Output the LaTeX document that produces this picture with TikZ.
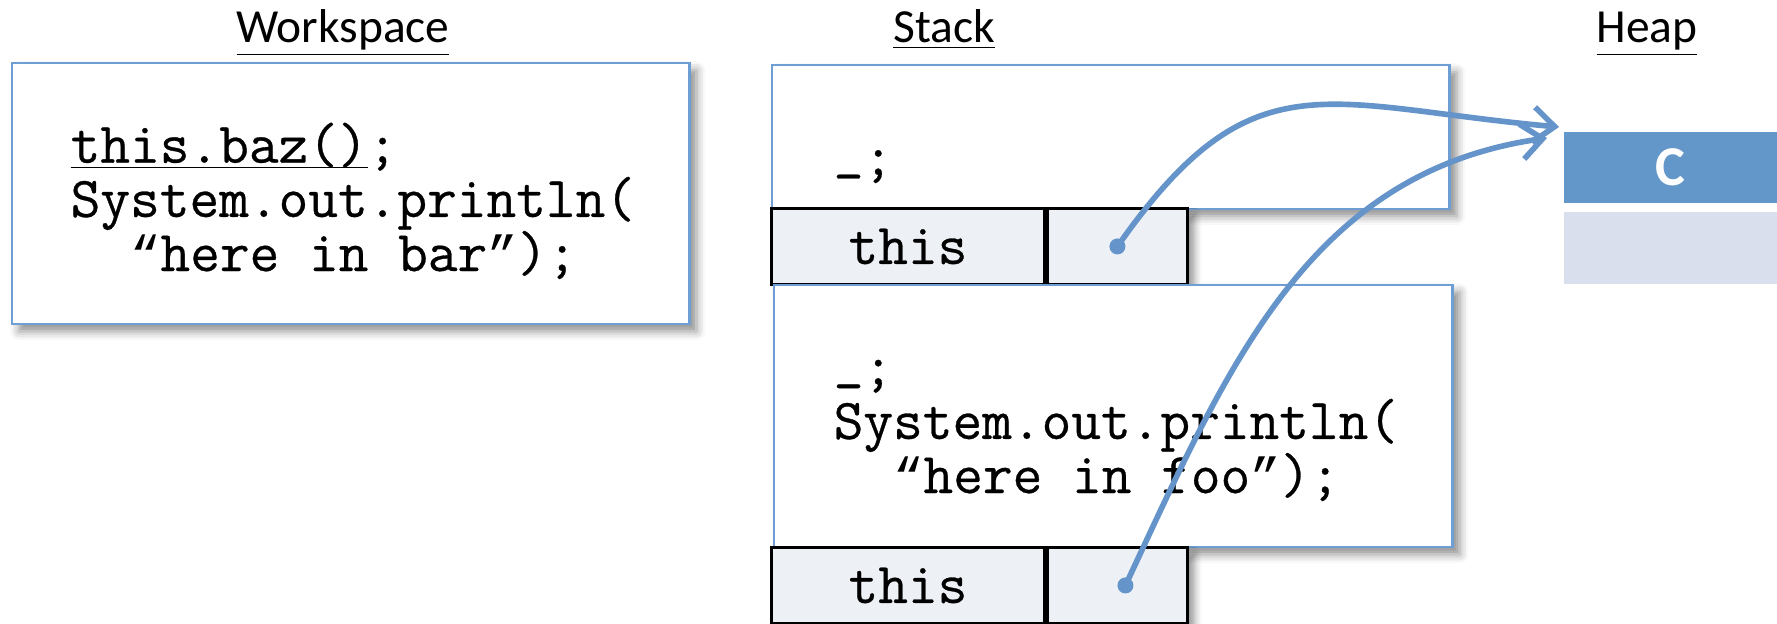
\documentclass[tikz,border=0pt]{standalone}
\usepackage{fontspec}
\setsansfont{Carlito}
\setmonofont{Latin Modern Mono}[FakeBold=0.5]
\newfontfamily\quotefont{Liberation Mono}
\usetikzlibrary{positioning,arrows.meta,shadows.blur}

\definecolor{frameblue}{HTML}{6F9ED4}
\definecolor{refblue}{HTML}{6494C9}
\definecolor{objblue}{HTML}{6396C9}
\definecolor{objgray}{HTML}{D9DFEC}
\definecolor{cellgray}{HTML}{EDF0F5}

\newcommand{\codefont}{\ttfamily\fontsize{16.4}{15.4}\selectfont}
\newcommand{\headfont}{\sffamily\fontsize{13.5}{16}\selectfont}
\newcommand{\codequote}[1]{{\quotefont\fontsize{14.4}{15.4}\selectfont #1}}
\newcommand{\hole}{\raisebox{0.14em}{\_}}

\begin{document}
\begin{tikzpicture}[x=0.01cm, y=-0.01cm,
    frame/.style={rectangle, draw=frameblue, line width=0.6pt, fill=white, inner sep=0pt, anchor=north west,
        blur shadow={shadow xshift=2pt, shadow yshift=-2pt, shadow blur radius=2.5pt, shadow opacity=45}},
    cell/.style={rectangle, draw=black, line width=0.8pt, fill=cellgray, inner sep=0pt, minimum height=0.76cm, font=\codefont,
        blur shadow={shadow xshift=2pt, shadow yshift=-2pt, shadow blur radius=2pt, shadow opacity=40}},
    code/.style={inner sep=0pt, anchor=base west, align=left, font=\codefont},
    header/.style={inner sep=0pt, anchor=base, font=\headfont},
    obj/.style={rectangle, inner sep=0pt, anchor=north west, minimum width=2.14cm},
    dot/.style={circle, fill=refblue, inner sep=0pt, minimum size=0.16cm},
    ref/.style={draw=refblue, line width=1.6pt, -{Straight Barb[length=6pt,width=10pt]}}]
    \useasboundingbox (0,0) rectangle (1777,623);

    % Workspace
    \node[header] (wshead) at (343,42) {\underline{Workspace}};
    \node[frame, minimum width=6.77cm, minimum height=2.61cm] (ws) at (11,62) {};
    \node[code] (wscode) at (70,271) {\underline{\smash{this.baz()}};\\System.out.println(\\\phantom{xx}\codequote{“}here in bar\codequote{”});};

    % Stack: frame of baz
    \node[header] (stackhead) at (944,42) {\underline{Stack}};
    \node[frame, minimum width=6.77cm, minimum height=1.44cm] (bazframe) at (771,64) {};
    \node[code] (bazcode) at (833,175) {\hole;};
    \node[cell, minimum width=2.73cm, anchor=north west] (bazthis) at (770,207) {this};
    \node[cell, minimum width=1.40cm, right=0pt of bazthis] (bazval) {};

    % Stack: frame of foo
    \node[frame, minimum width=6.78cm, minimum height=2.62cm] (fooframe) at (773,284) {};
    \node[code] (foocode) at (833,493) {\hole;\\System.out.println(\\\phantom{xx}\codequote{“}here in foo\codequote{”});};
    \node[cell, minimum width=2.73cm, anchor=north west] (foothis) at (770,546) {this};
    \node[cell, minimum width=1.40cm, right=0pt of foothis] (fooval) {};

    % Heap
    \node[header] (heaphead) at (1647,42) {\underline{Heap}};
    \node[obj, fill=objblue, minimum height=0.71cm, text=white, font=\sffamily\bfseries\fontsize{16}{18}\selectfont] (objc) at (1563,131) {C};
    \node[obj, fill=objgray, minimum height=0.72cm] (objf) at (1563,211) {};

    % References
    \node[dot] (bazref) at (bazval.center) {};
    \node[dot] (fooref) at ([xshift=0.08cm]fooval.center) {};
    \coordinate (tipa) at ([shift={(-4,-4)}]objc.north west);
    \coordinate (tipb) at ([shift={(-16,7)}]objc.north west);
    \draw[ref] (bazref.center) .. controls +(135,-193) and +(-235,-21) .. (tipa);
    \draw[ref] (fooref.center) .. controls +(102,-218) and +(-239,34) .. (tipb);
\end{tikzpicture}
\end{document}
